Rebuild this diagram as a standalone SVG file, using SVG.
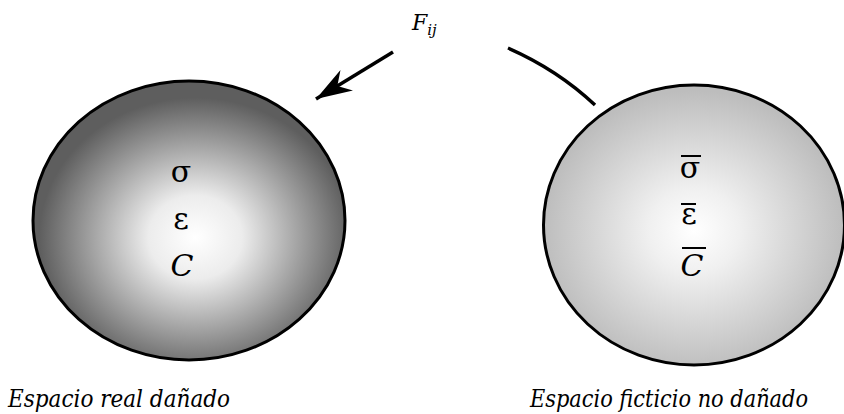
<svg xmlns="http://www.w3.org/2000/svg" width="844" height="414" viewBox="0 0 844 414">
  <defs>
    <radialGradient id="gDark" cx="0.52" cy="0.56" r="0.5">
      <stop offset="0" stop-color="#ffffff"/>
      <stop offset="0.3" stop-color="#ececec"/>
      <stop offset="1" stop-color="#5e5e5e"/>
    </radialGradient>
    <radialGradient id="gLight" cx="0.5" cy="0.52" r="0.5">
      <stop offset="0" stop-color="#ffffff"/>
      <stop offset="0.3" stop-color="#f0f0f0"/>
      <stop offset="1" stop-color="#bdbdbd"/>
    </radialGradient>
    <marker id="arrow" markerUnits="userSpaceOnUse" markerWidth="40" markerHeight="28" viewBox="-38 -14 40 28" refX="0" refY="0" orient="auto">
      <path d="M0,0 L-36,-12 L-25,0 L-36,12 Z" fill="#000"/>
    </marker>
  </defs>
  <style>
    .shape { stroke: #000; stroke-width: 3; }
    .sym { font-family: "DejaVu Serif", serif; font-size: 30px; fill: #000; text-anchor: middle; }
    .it { font-style: italic; }
    .label { font-family: "DejaVu Serif Condensed", "DejaVu Serif", serif; font-style: italic; font-size: 24px; fill: #000; }
    .bar { stroke: #000; stroke-width: 2; }
    .conn { fill: none; stroke: #000; stroke-width: 3.5; }
    .force { font-family: "DejaVu Serif", serif; font-style: italic; font-size: 22px; fill: #000; }
  </style>

  <g id="real">
    <ellipse class="shape" cx="189" cy="220.5" rx="156" ry="139.5" fill="url(#gDark)"/>
    <text class="sym" x="181" y="182">σ</text>
    <text class="sym" x="181" y="229">ε</text>
    <text class="sym it" x="182" y="276">C</text>
  </g>

  <g id="ficticio">
    <ellipse class="shape" cx="694" cy="225" rx="150.5" ry="140" fill="url(#gLight)"/>
    <text class="sym" x="690" y="178">σ</text>
    <line class="bar" x1="681" y1="156" x2="701" y2="156"/>
    <text class="sym" x="689" y="224">ε</text>
    <line class="bar" x1="681" y1="204" x2="696" y2="204"/>
    <text class="sym it" x="692" y="276">C</text>
    <line class="bar" x1="682" y1="248" x2="706" y2="248"/>
  </g>

  <g id="label-real">
    <text class="label" x="8" y="407" textLength="222" lengthAdjust="spacingAndGlyphs">Espacio real dañado</text>
  </g>
  <g id="label-ficticio">
    <text class="label" x="530" y="407" textLength="278" lengthAdjust="spacingAndGlyphs">Espacio ficticio no dañado</text>
  </g>

  <g id="connectors">
    <path class="conn" d="M393,52 L316,99" marker-end="url(#arrow)"/>
    <path class="conn" d="M508,48 Q558,70 595,105"/>
    <text class="force" x="412" y="30">F<tspan font-size="15" dy="5">ij</tspan></text>
  </g>
</svg>
